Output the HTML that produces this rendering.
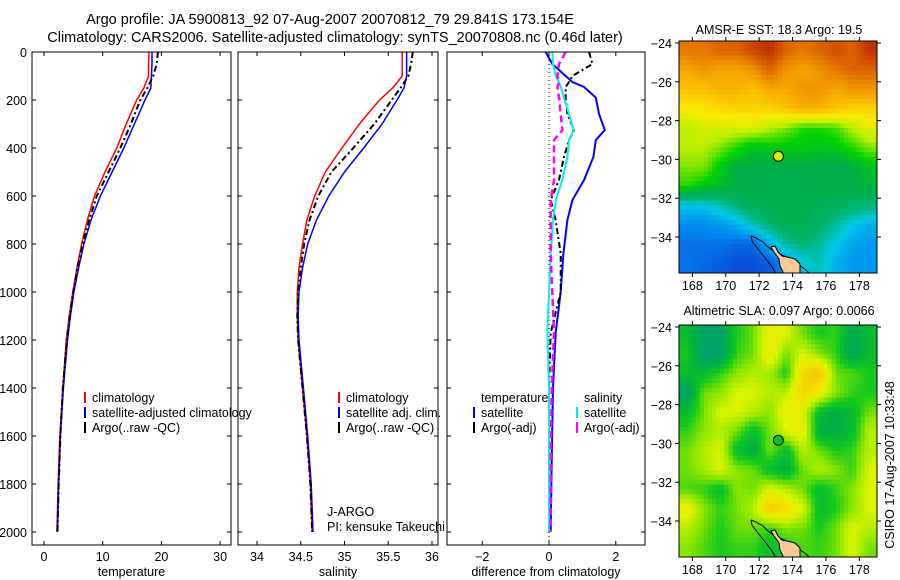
<!DOCTYPE html>
<html><head><meta charset="utf-8"><style>
body{margin:0;background:#fff;width:900px;height:580px;overflow:hidden}
svg{display:block;font-family:"Liberation Sans",sans-serif}
</style></head><body>
<svg id="c" width="900" height="580" xmlns="http://www.w3.org/2000/svg">
<text x="330" y="24" font-size="14.5" text-anchor="middle">Argo profile: JA 5900813_92 07-Aug-2007 20070812_79 29.841S 173.154E</text>
<text x="335" y="42" font-size="14.5" text-anchor="middle">Climatology: CARS2006. Satellite-adjusted climatology: synTS_20070808.nc (0.46d later)</text>
<text x="779" y="34" font-size="12.5" text-anchor="middle">AMSR-E SST: 18.3 Argo: 19.5</text>
<text x="779" y="315" font-size="12.5" text-anchor="middle">Altimetric SLA: 0.097 Argo: 0.0066</text>
<text transform="translate(894,465) rotate(-90)" font-size="12.5" text-anchor="middle">CSIRO 17-Aug-2007 10:33:48</text>
<g id="plots"></g>
</svg>
<script>
// ---- data ----
const depths=[0,50,100,150,200,300,400,500,600,700,800,900,1000,1100,1200,1400,1600,1800,2000];
const tempClim=[17.9,17.8,17.8,17.0,15.8,14.0,12.4,10.4,8.6,7.4,6.4,5.6,4.9,4.3,3.8,3.2,2.7,2.4,2.2];
const tempSat=[18.4,18.4,18.3,18.2,17.2,15.4,13.6,11.6,9.6,8.0,6.8,5.9,5.1,4.5,4.0,3.3,2.8,2.5,2.3];
const tempArgo=[19.4,19.2,18.6,17.6,16.4,14.8,13.0,11.0,9.0,7.7,6.6,5.7,5.0,4.4,3.9,3.2,2.8,2.5,2.3];
const salClim=[35.66,35.66,35.66,35.55,35.40,35.17,34.97,34.78,34.66,34.57,34.52,34.48,34.46,34.46,34.47,34.52,34.57,34.61,34.63];
const salSat=[35.71,35.71,35.71,35.68,35.60,35.43,35.22,35.0,34.82,34.68,34.58,34.52,34.48,34.47,34.48,34.53,34.58,34.62,34.64];
const salArgo=[35.78,35.76,35.73,35.64,35.54,35.34,35.10,34.85,34.70,34.60,34.54,34.50,34.47,34.46,34.47,34.52,34.57,34.61,34.63];
const diffDepths=[0,50,100,125,146,190,260,325,367,437,533,617,700,840,1000,1170,1400,1700,2000];
const dTempSat=[-0.1,0.1,0.5,0.7,1.05,1.4,1.5,1.67,1.4,1.33,1.05,0.7,0.55,0.43,0.35,0.2,0.12,0.08,0.05];
const dTempArgo=[1.2,1.3,0.7,0.6,0.5,0.5,0.55,0.75,0.6,0.45,0.3,0.05,0.2,0.35,0.35,0.05,0.0,0.0,0.0];
const dSalSat=[0.1,0.12,0.2,0.3,0.35,0.45,0.6,0.73,0.6,0.55,0.4,0.2,0.12,0.05,0.0,-0.05,0.0,0.0,0.0];
const dSalArgo=[0.5,0.3,0.25,0.3,0.25,0.3,0.35,0.4,0.15,0.15,0.15,0.05,0.05,0.05,0.1,0.15,0.08,0.05,0.05];
const depthTicks=[0,200,400,600,800,1000,1200,1400,1600,1800,2000];
const tempTicks=[0,10,20,30];
const salTicks=[34,34.5,35,35.5,36];
const salTickLabels=["34","34.5","35","35.5","36"];
const diffTicks=[-2,0,2];
const lonTicks=[168,170,172,174,176,178];
const latTicks=[-24,-26,-28,-30,-32,-34];
const sstGrid=[
[20.8,20.8,21,21,21.3,21.5,21,20.8,21,21.2,21,21.5],
[20.3,20.5,20.3,20.3,20.5,21,20.5,20.3,20.5,20.8,21,21],
[20,20,20.2,20.2,20,20.3,20.3,20.5,20.5,20.3,20.5,20.5],
[19.5,19.6,19.7,19.8,19.8,19.8,20,20.2,20.2,20,19.8,19.8],
[19,19.2,19.2,19.2,19.2,19,18.8,18.5,18.5,18.6,19,19.3],
[19,19,18.8,18.5,18.2,18.3,18.3,18.3,18.2,18.3,18.5,18.8],
[18.8,18.8,18.3,18,18,17.9,18,18,18,17.9,18,18.2],
[18.5,18.3,18.2,18,18,17.9,17.9,17.9,18,18,18,18.1],
[17,17,17.2,17.5,17.8,17.9,17.9,17.9,17.8,17.7,17.6,17.5],
[16.5,16.5,16.6,16.8,17.2,17.5,17.8,17.8,17.6,17.3,17,16.8],
[16.3,16.3,16.3,16.2,16.2,16.8,17.3,17.5,17.3,17,16.7,16.6],
[16.3,16.2,16.1,16,16,16.1,16.5,17,17.2,16.8,16.6,16.6]];
const slaGrid=[
[0.0,-0.05,-0.05,0.02,0.05,0.12,0.10,0.05,0.02,0.03,-0.03,0.0],
[0.02,-0.06,-0.06,0.03,0.05,0.13,0.05,0.10,0.06,0.03,-0.04,0.0],
[0.0,0.0,0.03,0.06,0.08,0.07,0.02,0.15,0.18,0.05,0.04,0.02],
[-0.05,0.05,0.06,0.10,0.10,0.08,0.08,0.16,0.12,0.06,0.03,0.02],
[0.0,0.05,0.10,0.10,0.08,0.06,0.12,0.10,0.0,-0.02,0.0,0.05],
[0.03,0.06,0.08,0.05,0.0,0.05,0.10,0.12,-0.02,-0.02,0.0,0.08],
[0.05,0.08,0.10,0.0,-0.02,0.05,0.0,0.08,0.05,0.02,0.03,0.08],
[0.05,0.07,0.10,0.06,0.05,0.0,-0.02,0.05,0.08,0.06,0.03,0.10],
[0.04,0.03,0.0,0.06,0.05,0.10,0.08,0.05,0.0,0.03,0.06,0.10],
[0.12,0.06,0.03,0.05,0.08,0.17,0.15,0.10,0.0,0.02,0.06,0.10],
[0.08,0.05,0.02,0.05,0.05,0.03,0.06,0.05,0.02,0.05,0.10,0.08],
[0.06,0.04,0.02,0.03,0.03,0.0,0.02,0.04,0.03,0.05,0.10,0.05]];
const argoLon=173.15, argoLat=-29.84;

const NS="http://www.w3.org/2000/svg";
const root=document.getElementById('plots');
function el(tag,attrs,parent){const e=document.createElementNS(NS,tag);for(const k in attrs)e.setAttribute(k,attrs[k]);(parent||root).appendChild(e);return e;}
function txt(x,y,s,size,anchor,parent){const t=el('text',{x:x,y:y,'font-size':size,'text-anchor':anchor||'start'},parent);t.textContent=s;return t;}

const PT=52,PB=545;
const yD=d=>52+d*0.24;
const panels=[
 {name:'temperature',l:32,r:231,x:v=>44+v*5.87,ticks:tempTicks,labels:tempTicks.map(String),title:'temperature'},
 {name:'salinity',l:238,r:438,x:v=>257+(v-34)*87.5,ticks:salTicks,labels:salTickLabels,title:'salinity'},
 {name:'difference',l:447,r:645,x:v=>549+v*33.4,ticks:diffTicks,labels:diffTicks.map(v=>v===-2?'\u22122':String(v)),title:'difference from climatology'}];

function line(p,ds,vals,color,w,dash,nm){
  const pts=ds.map((d,i)=>p.x(vals[i]).toFixed(1)+','+yD(d).toFixed(1)).join(' ');
  const pl=el('polyline',{points:pts,fill:'none',stroke:color,'stroke-width':w,'clip-path':'url(#clip-'+p.name+')'});
  if(dash)pl.setAttribute('stroke-dasharray',dash);
  
  
}
const defs=el('defs',{});
panels.forEach(p=>{
  const cp=el('clipPath',{id:'clip-'+p.name},defs);el('rect',{x:p.l,y:PT,width:p.r-p.l,height:PB-PT},cp);
  const g=el('g',{});
  
  
  el('rect',{x:p.l,y:PT,width:p.r-p.l,height:PB-PT,fill:'#fff'},g);
  p.g=g;
});
panels.forEach((p,pi)=>{
  depthTicks.forEach(d=>{
    el('line',{x1:p.l,x2:p.l+4,y1:yD(d),y2:yD(d),stroke:'#000'},p.g);
    el('line',{x1:p.r-4,x2:p.r,y1:yD(d),y2:yD(d),stroke:'#000'},p.g);
    if(pi===0){const t=txt(27,yD(d)+5,String(d),12.5,'end');}
  });
  p.ticks.forEach((v,i)=>{
    el('line',{x1:p.x(v),x2:p.x(v),y1:PB,y2:PB-4,stroke:'#000'},p.g);
    el('line',{x1:p.x(v),x2:p.x(v),y1:PT,y2:PT+4,stroke:'#000'},p.g);
    const t=txt(p.x(v),561,p.labels[i],12.5,'middle');
    
    
  });
  const t=txt((p.l+p.r)/2,576,p.title,12.5,'middle');
  
  
});
const [P1,P2,P3]=panels;
line(P1,depths,tempClim,'#f00',1.5,null,'temp-climatology-line');
line(P1,depths,tempSat,'#00f',1.5,null,'temp-satellite-line');
line(P1,depths,tempArgo,'#000',2,'6,3,2,3','temp-argo-line');
line(P2,depths,salClim,'#f00',1.5,null,'sal-climatology-line');
line(P2,depths,salSat,'#00f',1.5,null,'sal-satellite-line');
line(P2,depths,salArgo,'#000',2,'6,3,2,3','sal-argo-line');
el('line',{x1:P3.x(0),x2:P3.x(0),y1:PT,y2:PB,stroke:'#000','stroke-dasharray':'1,3'});
line(P3,diffDepths,dTempSat,'#00f',2,null,'diff-temp-satellite-line');
line(P3,diffDepths,dTempArgo,'#000',2,'6,3,2,3','diff-temp-argo-line');
line(P3,diffDepths,dSalSat,'#0ee',2,null,'diff-sal-satellite-line');
line(P3,diffDepths,dSalArgo,'#f0f',2.5,'7,4','diff-sal-argo-line');
panels.forEach(p=>{el('rect',{x:p.l,y:PT,width:p.r-p.l,height:PB-PT,fill:'none',stroke:'#000'});});
function leg(x,y,color,label,nm){
  el('rect',{x:x,y:y-10,width:2,height:11,fill:color});
  const t=txt(x+8,y,label,12.5,'start');
  
}
leg(84,402,'#f00','climatology','legend-climatology');
leg(84,417,'#00f','satellite-adjusted climatology','legend-satellite-adjusted');
leg(84,432,'#000','Argo(..raw -QC)','legend-argo-raw');
leg(338,402,'#f00','climatology','legend2-climatology');
leg(338,417,'#00f','satellite adj. clim.','legend2-satellite-adj');
leg(338,432,'#000','Argo(..raw -QC)','legend2-argo-raw');
let t=txt(481,402,'temperature',12.5);
t=txt(584,402,'salinity',12.5);
leg(473,417,'#00f','satellite','legend-temp-satellite');
leg(473,432,'#000','Argo(-adj)','legend-temp-argo');
leg(576,417,'#0ee','satellite','legend-sal-satellite');
leg(576,432,'#f0f','Argo(-adj)','legend-sal-argo');
t=txt(327,516,'J-ARGO',12.5);
t=txt(327,531,'PI: kensuke Takeuchi',12.5);

// ---- maps ----
function lerpC(stops,v){
  const toS=c=>'rgb('+c.map(Math.round).join(',')+')';
  if(v<=stops[0][0])return toS(stops[0][1]);
  for(let i=1;i<stops.length;i++){if(v<=stops[i][0]){const a=stops[i-1],b=stops[i],f=(v-a[0])/(b[0]-a[0]);return toS(a[1].map((c,j)=>c+(b[1][j]-c)*f));}}
  return toS(stops[stops.length-1][1]);
}
const sstStops=[[16,[10,80,220]],[16.5,[0,140,240]],[17,[0,200,230]],[17.5,[0,180,110]],[18,[0,175,70]],[18.4,[0,210,0]],[19,[190,240,0]],[19.5,[250,235,0]],[20,[250,195,0]],[20.5,[240,150,0]],[21,[220,100,0]],[21.5,[190,50,0]]];
const slaStops=[[-0.06,[0,160,110]],[-0.02,[0,175,70]],[0.02,[20,200,30]],[0.06,[140,230,0]],[0.10,[220,245,0]],[0.14,[245,225,0]],[0.18,[245,190,0]]];
function sample(grid,fi,fj){
  const nr=grid.length,nc=grid[0].length;
  fi=Math.max(0,Math.min(nr-1,fi));fj=Math.max(0,Math.min(nc-1,fj));
  const i0=Math.floor(fi),j0=Math.floor(fj),i1=Math.min(nr-1,i0+1),j1=Math.min(nc-1,j0+1),a=fi-i0,b=fj-j0;
  return grid[i0][j0]*(1-a)*(1-b)+grid[i0][j1]*(1-a)*b+grid[i1][j0]*a*(1-b)+grid[i1][j1]*a*b;
}
function map(top,grid,stops,nm){
  const L=679,R=877,T=top,B=top+232;
  const xL=lon=>L+(lon-167.2)*16.7, yL=lat=>T+2+(-24-lat)*19.4;
  const g=el('g',{});
  
  
  const cp=el('clipPath',{id:'clip-'+nm},defs);el('rect',{x:L,y:T,width:R-L,height:B-T},cp);
  const inner=el('g',{'clip-path':'url(#clip-'+nm+')'},g);
  const nr=grid.length,nc=grid[0].length,S=4,cw=(R-L)/(nc*S),ch=(B-T)/(nr*S);
  for(let i=0;i<nr*S;i++)for(let j=0;j<nc*S;j++){
    const v=sample(grid,(i+0.5)/S-0.5,(j+0.5)/S-0.5);
    const r=el('rect',{x:(L+j*cw).toFixed(2),y:(T+i*ch).toFixed(2),width:(cw+0.6).toFixed(2),height:(ch+0.6).toFixed(2),fill:lerpC(stops,v)},inner);
    
    
  }
  const o=T-41;
  el('path',{d:`M751,${236+o} L756,${238+o} L763,${242+o} L768,${247+o} L775,${252+o} L784,${256+o} L792,${260+o} L799,${265+o} L806,${270+o} L810,${274+o}`,fill:'none',stroke:'#000','stroke-width':1},inner);
  el('path',{d:`M751,${236+o} L752,${241+o} L758,${249+o} L766,${259+o} L772,${267+o} L776,${274+o}`,fill:'none',stroke:'#000','stroke-width':1},inner);
  el('path',{d:`M771,${247+o} L775,${246+o} L778,${252+o} L782,${256+o} L787,${257+o} L795,${259+o} L800,${264+o} L800,${274+o} L784,${274+o} L780,${266+o} L779,${259+o} L774,${252+o} Z`,fill:'#fcc896',stroke:'#000','stroke-width':1},inner);
  el('circle',{cx:xL(argoLon),cy:yL(argoLat),r:5,fill:nm==='sst-map'?lerpC(stops,19.2):lerpC(stops,0.0066),stroke:'#000','stroke-width':1},g);
  el('rect',{x:L,y:T,width:R-L,height:B-T,fill:'none',stroke:'#000'},g);
  lonTicks.forEach(lon=>{
    el('line',{x1:xL(lon),x2:xL(lon),y1:T,y2:T-4,stroke:'#000'},g);
    el('line',{x1:xL(lon),x2:xL(lon),y1:B,y2:B+4,stroke:'#000'},g);
    const t=txt(xL(lon),B+17,String(lon),12.5,'middle',g);
    
  });
  latTicks.forEach(lat=>{
    el('line',{x1:L,x2:L-4,y1:yL(lat),y2:yL(lat),stroke:'#000'},g);
    el('line',{x1:R,x2:R+4,y1:yL(lat),y2:yL(lat),stroke:'#000'},g);
    const t=txt(L-7,yL(lat)+5,'\u2212'+String(-lat),12.5,'end',g);
    
  });
}
map(41,sstGrid,sstStops,'sst-map');
map(325,slaGrid,slaStops,'sla-map');
</script>
</body></html>
